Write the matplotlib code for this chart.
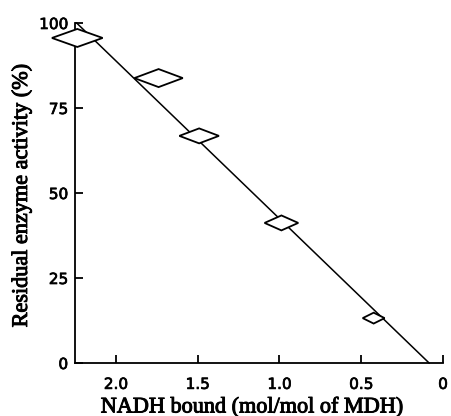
import matplotlib
matplotlib.use("Agg")
import matplotlib.pyplot as plt
from matplotlib.patches import Polygon
import matplotlib.patheffects as pe

# Data
nadh_bound = [2.236, 1.739, 1.491, 0.988, 0.424]        # mol/mol of MDH
activity = [95.6, 83.8, 66.8, 41.2, 13.2]                # residual activity (%)
nadh_err = [0.155, 0.148, 0.121, 0.103, 0.067]           # half-width of diamond
activity_err = [2.65, 2.65, 2.2, 2.2, 1.6]               # half-height of diamond
fit_x = [2.24, 0.085]
fit_y = [100.0, 0.0]
xticks = [2.0, 1.5, 1.0, 0.5, 0.0]
xtick_labels = ["2.0", "1.5", "1.0", "0.5", "0"]
yticks = [0, 25, 50, 75, 100]
ytick_labels = ["0", "25", "50", "75", "100"]

fig = plt.figure(figsize=(4.51, 4.16), dpi=100)
ax = fig.add_axes([75/451, 53/416, (443-75)/451, (363-23)/416])

ax.plot(fit_x, fit_y, color="black", lw=1.1, clip_on=False, zorder=2)

for x, y, dx, dy in zip(nadh_bound, activity, nadh_err, activity_err):
    verts = [(x + dx, y), (x, y + dy), (x - dx, y), (x, y - dy)]
    poly = Polygon(verts, closed=True, facecolor="white", edgecolor="black",
                   lw=1.3, clip_on=False, zorder=3)
    ax.add_patch(poly)

ax.set_xlim(2.25, 0)
ax.set_ylim(0, 100)
ax.spines["top"].set_visible(False)
ax.spines["right"].set_visible(False)
for s in ("left", "bottom"):
    ax.spines[s].set_linewidth(1.3)

ax.set_xticks(xticks)
ax.set_xticklabels(xtick_labels)
ax.set_yticks(yticks)
ax.set_yticklabels(ytick_labels)
ax.tick_params(direction="in", length=6, width=1.3, labelsize=11)
ax.tick_params(axis="x", pad=10)
ax.tick_params(axis="y", pad=5)
thick = [pe.withStroke(linewidth=0.5, foreground="black")]
for lab in ax.get_xticklabels() + ax.get_yticklabels():
    lab.set_family("DejaVu Sans")
    lab.set_path_effects(thick)

thick2 = [pe.withStroke(linewidth=0.7, foreground="black")]
ax.set_xlabel("NADH bound (mol/mol of MDH)", family="Liberation Serif",
              fontsize=16, path_effects=thick2)
ax.set_ylabel("Residual enzyme activity (%)", family="Liberation Serif",
              fontsize=16, path_effects=thick2)
ax.xaxis.set_label_coords(0.481, -0.103)
ax.yaxis.set_label_coords(-0.117, 0.4926)

fig.savefig("out.png", dpi=100)
